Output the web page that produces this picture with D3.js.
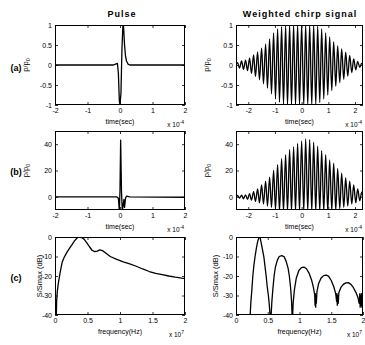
<!DOCTYPE html>
<html>
<head>
<meta charset="utf-8">
<script src="https://cdn.jsdelivr.net/npm/d3@7"></script>
<style>
  body { margin: 0; background: #fff; }
  svg { font-family: "Liberation Sans", Arial, sans-serif; }
</style>
</head>
<body>
<svg id="fig" width="365" height="345"></svg>
<script>
// time in units of 1e-4 s, frequency in units of 1e7 Hz

// (a) pulse, normalised
const pulseAT = [-2, -0.2, -0.12, -0.08, -0.05, -0.02, 0.0, 0.03, 0.06, 0.09, 0.11, 0.14, 0.17, 0.2, 0.25, 0.3, 2];
const pulseA  = [0, 0, 0.03, 0.04, -0.2, -0.9, -1, -0.7, 0.4, 1, 0.95, 0.5, 0.22, 0.1, 0.02, 0, 0];

// (b) pulse, p/p0
const pulseBT = [-2, -0.1, -0.05, -0.02, 0.0, 0.02, 0.045, 0.07, 0.1, 0.12, 0.14, 0.17, 0.2, 0.3, 2];
const pulseB  = [0, 0, -1, -10.5, 5, 43, 5, -10.5, -6, -2, -8, -1, 0.5, 0, -0.3];

// chirp extrema times
const chirpT = [-2.46, -2.40, -2.33, -2.25, -2.18, -2.10, -2.03, -1.95, -1.88, -1.80, -1.73, -1.65, -1.58,
  -1.50, -1.43, -1.35, -1.28, -1.20, -1.13, -1.05, -0.98, -0.90, -0.83, -0.75, -0.68, -0.60, -0.53,
  -0.45, -0.38, -0.30, -0.23, -0.15, -0.08, 0.00, 0.08, 0.15, 0.23, 0.30, 0.38, 0.45, 0.53, 0.60,
  0.68, 0.75, 0.83, 0.90, 0.98, 1.05, 1.13, 1.20, 1.28, 1.35, 1.43, 1.50, 1.58, 1.65, 1.73, 1.80,
  1.88, 1.95, 2.03, 2.10, 2.18, 2.25, 2.30];
// (a) chirp, normalised
const chirpA = [0, 0.06, -0.08, 0.10, -0.11, 0.12, -0.14, 0.17, -0.21, 0.25, -0.29, 0.33, -0.37,
  0.42, -0.47, 0.52, -0.58, 0.65, -0.72, 0.80, -0.85, 0.90, -0.93, 0.96, -0.98, 0.99,
  -1, 1, -1, 1, -1, 1, -1, 1, -1, 1, -1, 1, -1, 1,
  -0.99, 0.97, -0.94, 0.90, -0.85, 0.80, -0.75, 0.70, -0.64, 0.58, -0.53, 0.48, -0.44,
  0.40, -0.36, 0.32, -0.28, 0.24, -0.19, 0.15, -0.12, 0.09, -0.06, 0.04, 0];
// (b) chirp, p/p0
const chirpB = [0, 1.0, -1, 1.2, -1.5, 1.5, -2, 2.5, -2.5, 4, -3.5, 6, -4.5, 9, -5.5, 12, -7, 15,
  -8, 20, -9.5, 24.5, -11, 29, -11, 32, -11, 36, -11, 38, -11, 40.5, -11, 42.5, -11, 44, -11,
  43.5, -11, 41.5, -11, 38.5, -11, 35, -11, 32, -11, 28, -10.5, 25.5, -10, 21.5, -9, 18, -8,
  14.5, -7, 12, -5.5, 9, -4.5, 6, -3, 3.5, 0];

// (c) spectra [freq, dB]
const specPulse = [[0.02,-42],[0.025,-33],[0.035,-28],[0.05,-24],[0.08,-18],[0.11,-13],[0.14,-10.5],
  [0.18,-8],[0.22,-6],[0.26,-4],[0.3,-2],[0.34,-0.5],[0.37,0],[0.41,-0.3],[0.45,-1.2],[0.49,-3],
  [0.53,-5],[0.57,-6.8],[0.61,-7.5],[0.65,-7.2],[0.69,-6.6],[0.73,-7],[0.78,-8.2],[0.85,-10],
  [0.95,-11.5],[1.05,-12.8],[1.15,-13.8],[1.25,-15],[1.35,-16.4],[1.45,-17.7],[1.55,-18.6],
  [1.65,-19.3],[1.75,-20],[1.85,-20.6],[1.95,-21.1],[2.0,-21.3]];
const specChirp = [[0.22,-42],[0.235,-33],[0.25,-27],[0.265,-20],[0.28,-15],[0.30,-10],[0.32,-6],
  [0.34,-2.5],[0.36,-0.3],[0.37,0],[0.38,-0.5],[0.40,-3.5],[0.42,-7],[0.44,-10.5],[0.46,-16],
  [0.475,-20],[0.49,-25],[0.51,-30],[0.525,-35],[0.54,-42],
  [0.55,-42],[0.565,-33],[0.58,-27],[0.60,-20],[0.62,-15.5],[0.65,-12],[0.68,-10],[0.72,-9.5],
  [0.76,-10.2],[0.79,-12.5],[0.82,-16],[0.84,-20],[0.86,-26],[0.875,-33],[0.885,-42],
  [0.89,-42],[0.90,-34],[0.92,-27],[0.95,-21],[0.99,-17.2],[1.03,-15.7],[1.07,-15.4],[1.11,-16.3],
  [1.15,-18.5],[1.19,-22],[1.22,-26],[1.24,-30],[1.245,-35],[1.25,-29],[1.255,-36],[1.26,-30],
  [1.265,-34],[1.275,-28],
  [1.30,-24],[1.34,-21],[1.38,-19.8],[1.42,-19.5],[1.46,-20.2],[1.50,-22.3],[1.54,-25.5],[1.57,-29],
  [1.585,-33],[1.59,-29],[1.595,-35],[1.60,-30],[1.61,-34],[1.62,-28.5],
  [1.65,-26],[1.69,-24.3],[1.73,-23.5],[1.77,-23.4],[1.81,-24.3],[1.85,-26],[1.89,-28.5],[1.92,-31],
  [1.94,-34],[1.95,-29],[1.955,-36],[1.96,-30],[1.967,-35],[1.975,-29],[1.982,-36],[1.99,-30],[2.0,-33]];

// ticks
const tickTime = [-2, -1, 0, 1, 2];
const tickNorm = [-1, -0.5, 0, 0.5, 1];
const tickPress = [0, 20, 40];
const tickFreq = [0, 0.5, 1, 1.5, 2];
const tickDb = [-40, -30, -20, -10, 0];

const svg = d3.select("#fig");
const colX = [[55, 185], [236, 363]];
const rowY = [[25, 105], [131, 210], [237, 315]];
let clipN = 0;

function panel(o) {
  const x = d3.scaleLinear().domain(o.xd).range(o.cx);
  const y = d3.scaleLinear().domain(o.yd).range([o.ry[1], o.ry[0]]);
  const g = svg.append("g");
  const id = "clip" + (clipN++);
  svg.append("clipPath").attr("id", id).append("rect")
    .attr("x", o.cx[0]).attr("y", o.ry[0])
    .attr("width", o.cx[1] - o.cx[0]).attr("height", o.ry[1] - o.ry[0]);

  const fmt = d => String(d);
  const ax = [
    g.append("g").attr("transform", `translate(0,${o.ry[1]})`)
      .call(d3.axisBottom(x).tickValues(o.xt).tickSize(-3).tickPadding(3).tickFormat(fmt)),
    g.append("g").attr("transform", `translate(0,${o.ry[0]})`)
      .call(d3.axisTop(x).tickValues(o.xt).tickSize(-3).tickFormat("")),
    g.append("g").attr("transform", `translate(${o.cx[0]},0)`)
      .call(d3.axisLeft(y).tickValues(o.yt).tickSize(-3).tickPadding(3).tickFormat(fmt)),
    g.append("g").attr("transform", `translate(${o.cx[1]},0)`)
      .call(d3.axisRight(y).tickValues(o.yt).tickSize(-3).tickFormat(""))
  ];
  ax.forEach(a => {
    a.attr("font-family", null).attr("font-size", 7);
    a.select(".domain").remove();
    a.selectAll("line").attr("stroke", "#000").attr("stroke-width", 0.8);
    a.selectAll("text").attr("fill", "#000");
  });

  g.append("path")
    .datum(o.data)
    .attr("clip-path", `url(#${id})`)
    .attr("fill", "none")
    .attr("stroke", "#000")
    .attr("stroke-width", o.sw || 1.3)
    .attr("stroke-linejoin", "round")
    .attr("d", d3.line().x(d => x(d[0])).y(d => y(d[1])).curve(o.curve || d3.curveLinear));

  g.append("rect")
    .attr("x", o.cx[0] + 0.5).attr("y", o.ry[0] + 0.5)
    .attr("width", o.cx[1] - o.cx[0] - 1).attr("height", o.ry[1] - o.ry[0] - 1)
    .attr("fill", "none").attr("stroke", "#000").attr("stroke-width", 1);

  // x label
  const xm = (o.cx[0] + o.cx[1]) / 2;
  g.append("text").attr("x", xm).attr("y", o.ry[1] + 19)
    .attr("text-anchor", "middle").attr("font-size", 7).text(o.xlab);
  // exponent
  const ex = g.append("text").attr("x", o.cx[1] - 1).attr("y", o.ry[1] + 22)
    .attr("text-anchor", "end").attr("font-size", 6.5);
  ex.append("tspan").text("x 10");
  ex.append("tspan").attr("dy", -3).attr("font-size", 5).text(o.expo);

  // y label
  const yl = g.append("text")
    .attr("transform", `translate(${o.ylx},${(o.ry[0] + o.ry[1]) / 2}) rotate(-90)`)
    .attr("text-anchor", "middle").attr("font-size", 7.5);
  if (o.ylab === "p") {
    yl.append("tspan").text("p/p");
    yl.append("tspan").attr("dy", 2).attr("font-size", 5.5).text("0");
  } else {
    yl.text(o.ylab);
  }
}

const rows = [
  { yd: [-1, 1], yt: tickNorm, ylab: "p", sets: [d3.zip(pulseAT, pulseA), d3.zip(chirpT, chirpA)] },
  { yd: [-10, 50], yt: tickPress, ylab: "p", sets: [d3.zip(pulseBT, pulseB), d3.zip(chirpT, chirpB)] },
  { yd: [-40, 0], yt: tickDb, ylab: "S/Smax (dB)", sets: [specPulse, specChirp] }
];

rows.forEach((r, i) => {
  [0, 1].forEach(c => {
    const spec = i === 2;
    panel({
      cx: colX[c], ry: rowY[i],
      xd: spec ? [0, 2] : (c === 0 ? [-2, 2] : [-2.46, 2.3]),
      yd: r.yd, xt: spec ? tickFreq : tickTime, yt: r.yt,
      data: r.sets[c],
      curve: (c === 1 && !spec) ? d3.curveMonotoneX : d3.curveLinear,
      xlab: spec ? "frequency(Hz)" : "time(sec)",
      expo: spec ? "7" : "-4",
      ylab: r.ylab,
      ylx: spec ? (c === 0 ? 42 : 218) : colX[c][0] - 27
    });
  });
});

// titles and row labels
svg.append("text").attr("x", 122).attr("y", 17).attr("text-anchor", "middle")
  .attr("font-size", 9).attr("font-weight", "bold").attr("letter-spacing", 1).text("Pulse");
svg.append("text").attr("x", 300).attr("y", 17).attr("text-anchor", "middle")
  .attr("font-size", 9).attr("font-weight", "bold").attr("letter-spacing", 1).text("Weighted chirp signal");
[["(a)", 71], ["(b)", 175], ["(c)", 281]].forEach(([t, yy]) => {
  svg.append("text").attr("x", 16).attr("y", yy).attr("text-anchor", "middle")
    .attr("font-size", 9).attr("font-weight", "bold").text(t);
});
</script>
</body>
</html>
